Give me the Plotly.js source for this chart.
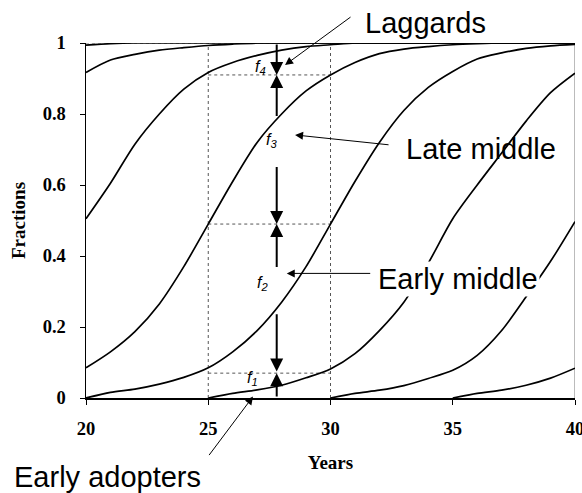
<!DOCTYPE html>
<html>
<head>
<meta charset="utf-8">
<script src="https://cdn.plot.ly/plotly-3.0.1.min.js"></script>
<style>html,body{margin:0;padding:0;background:#fff;}#chart{width:582px;height:493px;}</style>
</head>
<body>
<div id="chart"></div>
<script>
// ---- data ----
const years = [20,21,22,23,24,25,26,27,28,29,30,31,32,33,34,35,36,37,38,39,40];

const curveTop2 = [0.994,0.998,1,1,1,1,1,1,1,1,1,1,1,1,1,1,1,1,1,1,1];
const curveTop  = [0.917,0.952,0.968,0.98,0.987,0.993,0.997,1,1,1,1,1,1,1,1,1,1,1,1,1,1];
const curveA    = [0.505,0.605,0.715,0.80,0.87,0.917,0.945,0.965,0.98,0.99,0.995,1,1,1,1,1,1,1,1,1,1];
const curveB    = [0.085,0.13,0.187,0.265,0.37,0.49,0.61,0.72,0.80,0.865,0.91,0.945,0.97,0.983,0.99,0.995,0.998,1,1,1,1];
const curveC    = [0,0.016,0.025,0.039,0.058,0.085,0.13,0.19,0.27,0.37,0.49,0.61,0.72,0.81,0.875,0.92,0.955,0.972,0.985,0.992,0.996];
const curveD    = [null,null,null,null,null,0,0.013,0.023,0.036,0.057,0.082,0.125,0.19,0.27,0.38,0.505,0.60,0.69,0.78,0.86,0.915];
const curveE    = [null,null,null,null,null,null,null,null,null,null,0,0.013,0.022,0.035,0.055,0.078,0.12,0.19,0.285,0.385,0.497];
const curveF    = [null,null,null,null,null,null,null,null,null,null,null,null,null,null,null,0,0.013,0.022,0.036,0.056,0.084];

const xTicks = [20,25,30,35,40];
const xTickText = ['20','25','30','35','40'];
const yTicks = [0,0.2,0.4,0.6,0.8,1];
const yTickText = ['0','0.2','0.4','0.6','0.8','1'];

const guideYears = [25, 30];          // dotted verticals
const levels = [0.07, 0.49, 0.91];    // dotted horizontals between guide years
const measureYear = 27.8;             // year of the f-arrows
const fSegments = [                   // [from, to] of each arrow along measureYear
  [1.0, 0.91], [0.79, 0.91], [0.655, 0.49], [0.365, 0.49], [0.24, 0.075], [0.0, 0.07]
];
const fLabels = [
  {n:'4', x:27.12, y:0.932},
  {n:'3', x:27.6, y:0.725},
  {n:'2', x:27.2, y:0.322},
  {n:'1', x:26.8, y:0.055}
];

// ---- traces ----
const curves = [curveTop2, curveTop, curveA, curveB, curveC, curveD, curveE, curveF];
const traces = curves.map(c => ({
  x: years, y: c, type: 'scatter', mode: 'lines',
  line: {color: '#000', width: 1.7, shape: 'spline', smoothing: 0.8},
  connectgaps: false, hoverinfo: 'skip', showlegend: false
}));

// ---- shapes ----
const shapes = [];
guideYears.forEach(g => shapes.push({type:'line', xref:'x', yref:'y', x0:g, x1:g, y0:0, y1:1,
  line:{color:'#555', width:1, dash:'dot'}, layer:'below'}));
levels.forEach(l => shapes.push({type:'line', xref:'x', yref:'y', x0:guideYears[0], x1:guideYears[1], y0:l, y1:l,
  line:{color:'#555', width:1, dash:'dot'}, layer:'below'}));
shapes.push({type:'line', xref:'x', yref:'y', x0:20, x1:40, y0:1, y1:1, line:{color:'#777', width:1, dash:'dot'}, layer:'below'});
shapes.push({type:'line', xref:'x', yref:'y', x0:40, x1:40, y0:0, y1:1, line:{color:'#777', width:1}, layer:'below'});

// ---- annotations ----
const bigFont = {family:'Liberation Sans, Arial, sans-serif', size:29, color:'#000'};
const annotations = [];
fSegments.forEach(s => annotations.push({
  x: measureYear, y: s[1], ax: measureYear, ay: s[0], xref:'x', yref:'y', axref:'x', ayref:'y',
  text:'', showarrow:true, arrowhead:2, arrowsize:1.3, arrowwidth:2, arrowcolor:'#000', standoff:0, startstandoff:0
}));
fLabels.forEach(f => annotations.push({
  x:f.x, y:f.y, xref:'x', yref:'y', showarrow:false, xanchor:'center', yanchor:'middle',
  text:'<i>f<sub>'+f.n+'</sub></i>', font:{family:'Liberation Sans, Arial, sans-serif', size:16, color:'#000'}
}));
// pointer arrows: head in data units, tail as pixel offset
const pointers = [
  {x:28.14, y:0.938, ax:67, ay:-49},
  {x:28.55, y:0.741, ax:95, ay:10},
  {x:28.21, y:0.351, ax:85, ay:0},
  {x:26.83, y:0.004, ax:-45, ay:60}
];
pointers.forEach(p => annotations.push({x:p.x, y:p.y, ax:p.ax, ay:p.ay, xref:'x', yref:'y',
  text:'', showarrow:true, arrowhead:2, arrowsize:1.6, arrowwidth:1, arrowcolor:'#000', standoff:0}));
// text labels (paper coordinates)
const labels = [
  {text:'Laggards', x:0.695, y:1.057, bg:null},
  {text:'Late middle', x:0.808, y:0.701, bg:null},
  {text:'Early middle', x:0.760, y:0.335, bg:'#fff'},
  {text:'Early adopters', x:0.043, y:-0.222, bg:null}
];
labels.forEach(l => {
  const a = {x:l.x, y:l.y, xref:'paper', yref:'paper', xanchor:'center', yanchor:'middle',
    showarrow:false, text:l.text, font:bigFont};
  if (l.bg) a.bgcolor = l.bg;
  annotations.push(a);
});

const tickFont = {family:'Liberation Serif, Times New Roman, serif', size:18.5, color:'#000', weight:'bold'};
const titleFont = {family:'Liberation Serif, Times New Roman, serif', size:19, color:'#000', weight:'bold'};
const layout = {
  width:582, height:493,
  margin:{l:86, r:7, t:43, b:95},
  paper_bgcolor:'#fff', plot_bgcolor:'#fff',
  xaxis:{range:[20,40], tickvals:xTicks, ticktext:xTickText, ticks:'outside', ticklen:5, tickcolor:'#000',
    showline:true, linecolor:'#000', linewidth:1.5, showgrid:false, zeroline:false, tickfont:tickFont,
    ticklabelstandoff:8, ticklabeloverflow:'allow',
    title:{text:'Years', font:titleFont, standoff:18}},
  yaxis:{range:[0,1], tickvals:yTicks, ticktext:yTickText, ticks:'outside', ticklen:5, tickcolor:'#000',
    showline:true, linecolor:'#000', linewidth:1.5, showgrid:false, zeroline:false, tickfont:tickFont,
    ticklabelstandoff:10, ticklabeloverflow:'allow',
    title:{text:'Fractions', font:titleFont, standoff:12}},
  shapes: shapes,
  annotations: annotations,
  showlegend:false
};

Plotly.newPlot('chart', traces, layout, {staticPlot:true, displayModeBar:false});
</script>
</body>
</html>
